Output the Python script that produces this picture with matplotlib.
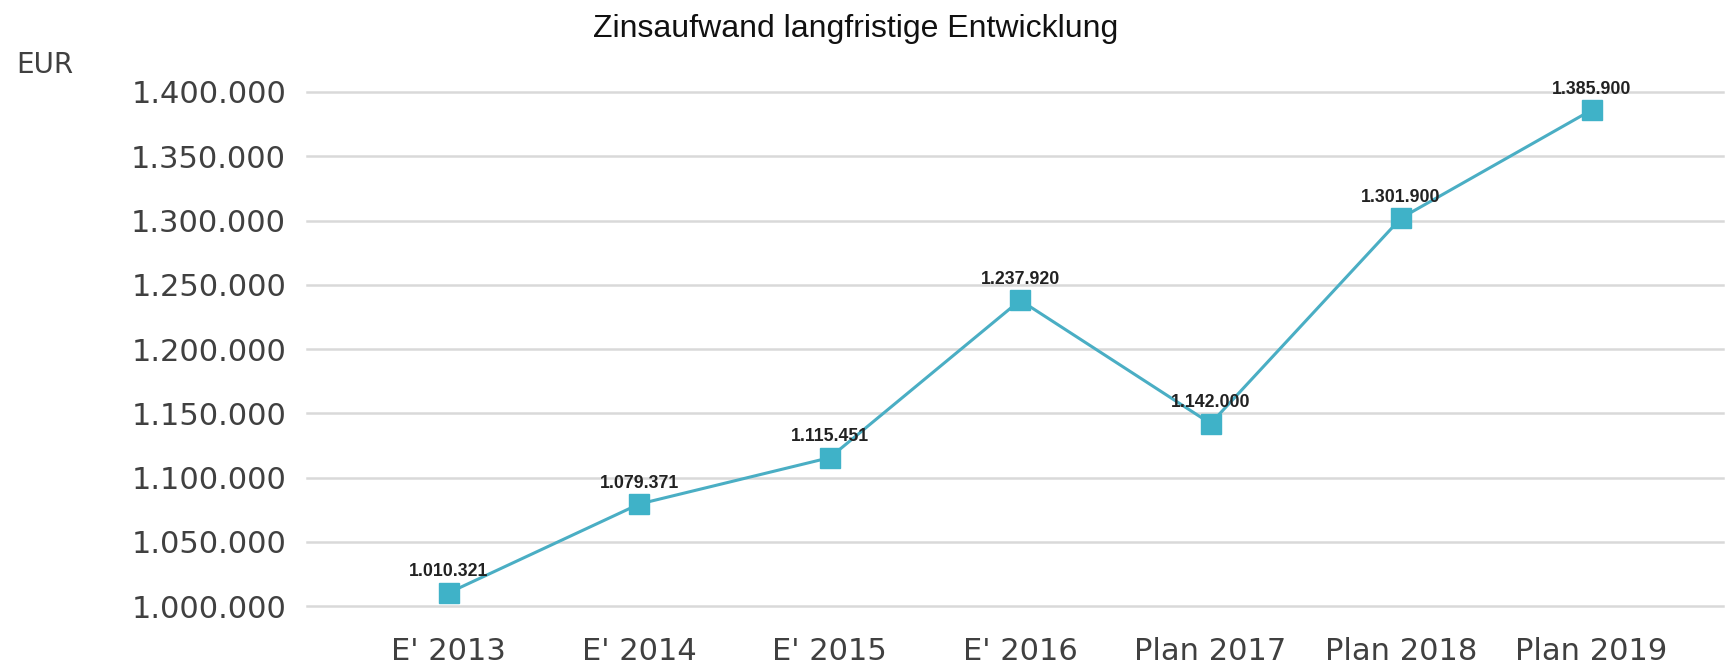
import matplotlib
matplotlib.use('Agg')
import matplotlib.pyplot as plt
from matplotlib.ticker import FuncFormatter

# Zinsaufwand per year (EUR)
categories = ["E' 2013", "E' 2014", "E' 2015", "E' 2016", "Plan 2017", "Plan 2018", "Plan 2019"]
values = [1010321, 1079371, 1115451, 1237920, 1142000, 1301900, 1385900]
y_ticks = [1000000, 1050000, 1100000, 1150000, 1200000, 1250000, 1300000, 1350000, 1400000]


def de_fmt(v, pos=None):
    return f"{v:,.0f}".replace(",", ".")


fig = plt.figure(figsize=(17.33, 6.72), dpi=100)
fig.patch.set_facecolor('white')
ax = fig.add_axes([0.1771, 0.0982, 0.8171, 0.7649])

x = list(range(len(categories)))
ax.plot(x, values, color='#4aaec4', linewidth=2.2, marker='s', markersize=14,
        markerfacecolor='#3fb2c8', markeredgecolor='#3fb2c8', zorder=3, clip_on=False)

for xi, v in zip(x, values):
    ax.annotate(de_fmt(v), (xi, v), xytext=(0, 15), textcoords='offset points',
                ha='center', va='center', fontsize=12.8, fontweight='bold',
                family='Liberation Sans', color='#222222', zorder=4)

ax.set_xlim(-0.745, 6.69)
ax.set_ylim(1000000, 1400000)
ax.set_yticks(y_ticks)
ax.yaxis.set_major_formatter(FuncFormatter(de_fmt))
ax.set_xticks(x)
ax.set_xticklabels(categories)

ax.grid(True, axis='y', color='#d9d9d9', linewidth=1.8, zorder=0)
ax.set_axisbelow(True)
for gl in ax.get_ygridlines():
    gl.set_clip_on(False)
for s in ax.spines.values():
    s.set_visible(False)
ax.tick_params(axis='both', length=0, labelsize=22, colors='#404040')
ax.tick_params(axis='y', pad=15)
ax.tick_params(axis='x', pad=22)

fig.text(0.4935, 0.957, 'Zinsaufwand langfristige Entwicklung', ha='center', va='center',
         fontsize=23, family='Liberation Sans', color='#111111')
fig.text(0.0095, 0.903, 'EUR', ha='left', va='center', fontsize=20, color='#404040')

fig.savefig('out.png', dpi=100)
